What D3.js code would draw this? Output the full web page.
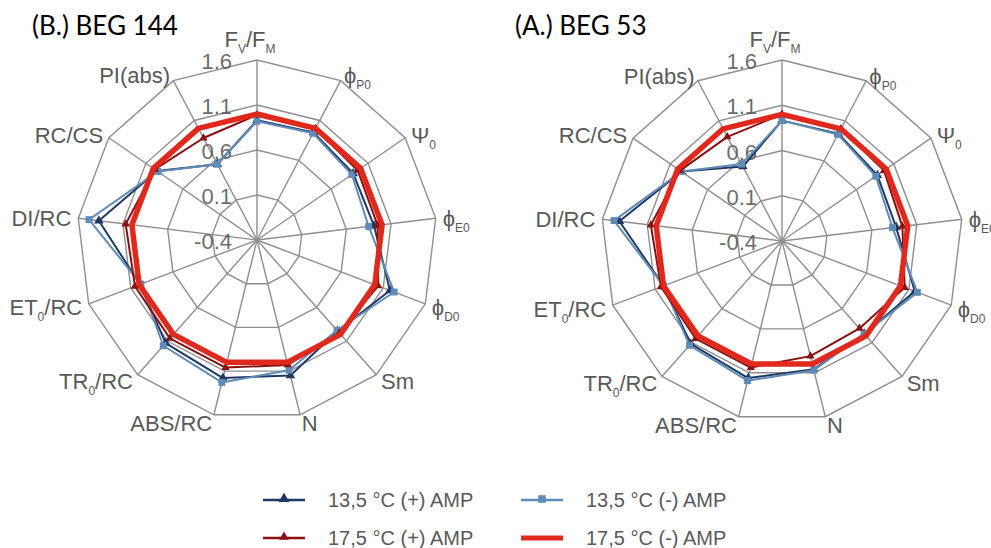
<!DOCTYPE html>
<html>
<head>
<meta charset="utf-8">
<script src="https://cdn.jsdelivr.net/npm/d3@7"></script>
<style>
  html, body { margin: 0; padding: 0; background: #fff; }
  svg { display: block; }
</style>
</head>
<body>
<svg id="chart" width="991" height="548"></svg>
<script>
// ---------- DATA ----------
const categories = ["F_V/F_M", "ϕ_P0", "Ψ_0", "ϕ_E0", "ϕ_D0", "Sm", "N", "ABS/RC", "TR_0/RC", "ET_0/RC", "DI/RC", "RC/CS", "PI(abs)"];
const tickValues = [-0.4, 0.1, 0.6, 1.1, 1.6];
const tickLabels = ["-0.4", "0.1", "0.6", "1.1", "1.6"];
const seriesNames = ["13,5 °C (+) AMP", "13,5 °C (-) AMP", "17,5 °C (+) AMP", "17,5 °C (-) AMP"];
const panelTitles = ["(B.) BEG 144", "(A.) BEG 53"];

// BEG 144
const beg144_13plus  = [0.93, 0.95, 0.90, 0.91, 1.18, 0.95, 1.15, 1.18, 1.13, 0.99, 1.37, 0.95, 0.55];
const beg144_13minus = [0.92, 0.94, 0.88, 0.85, 1.23, 0.94, 1.09, 1.23, 1.17, 0.98, 1.48, 0.94, 0.55];
const beg144_17plus  = [0.99, 1.00, 0.96, 0.95, 1.04, 0.98, 1.03, 1.06, 1.06, 1.05, 1.07, 0.98, 0.88];
const beg144_17minus = [1.00, 1.00, 1.00, 1.00, 1.00, 1.00, 1.00, 1.00, 1.00, 1.00, 1.00, 1.00, 1.00];
// BEG 53
const beg53_13plus  = [0.93, 0.94, 0.88, 0.87, 1.17, 0.97, 1.06, 1.16, 1.12, 1.00, 1.41, 0.95, 0.53];
const beg53_13minus = [0.93, 0.93, 0.86, 0.83, 1.20, 0.97, 1.07, 1.19, 1.14, 1.00, 1.47, 0.95, 0.56];
const beg53_17plus  = [1.00, 1.00, 0.97, 0.94, 1.05, 0.89, 0.91, 1.04, 1.04, 1.03, 1.06, 0.97, 0.90];
const beg53_17minus = [1.00, 1.00, 1.00, 1.00, 1.00, 1.00, 1.00, 1.00, 1.00, 1.00, 1.00, 1.00, 1.00];

// ---------- STYLE ----------
const styles = [
  { color: "#1f3864", width: 2,   marker: "triangle", msize: 40 },
  { color: "#5f8bb8", width: 2,   marker: "square",   msize: 48 },
  { color: "#8b1010", width: 2,   marker: "triangle", msize: 30 },
  { color: "#e0291c", width: 5.5, marker: null,       msize: 0 }
];
const gridColor = "#8f8f8f";
const textColor = "#595959";
const labelFont = "'Liberation Sans', Arial, sans-serif";

const panels = [
  { title: panelTitles[0], cx: 257, cy: 240, R: 180, titleX: 32,
    series: [beg144_13plus, beg144_13minus, beg144_17plus, beg144_17minus] },
  { title: panelTitles[1], cx: 782, cy: 241, R: 181, titleX: 515,
    series: [beg53_13plus, beg53_13minus, beg53_17plus, beg53_17minus] }
];

const svg = d3.select("#chart");
const N = categories.length;
const angle = i => i * 2 * Math.PI / N;

function addRichText(sel, str, size, subSize) {
  const parts = str.split(/_([^/]+)/);
  parts.forEach((p, k) => {
    if (p === "") return;
    if (k % 2 === 0) {
      sel.append("tspan").attr("font-size", size).attr("dy", 0).text(p);
    } else {
      sel.append("tspan").attr("font-size", subSize).attr("baseline-shift", -6).text(p);
    }
  });
}

panels.forEach(p => {
  const g = svg.append("g").attr("transform", `translate(${p.cx},${p.cy})`);
  const r = d3.scaleLinear().domain([tickValues[0], tickValues[tickValues.length - 1]]).range([0, p.R]);
  const pt = (i, v) => [r(v) * Math.sin(angle(i)), -r(v) * Math.cos(angle(i))];

  // grid polygons
  const poly = d3.line().curve(d3.curveLinearClosed);
  tickValues.slice(1).forEach(t => {
    g.append("path")
      .attr("d", poly(d3.range(N).map(i => pt(i, t))))
      .attr("fill", "none").attr("stroke", gridColor).attr("stroke-width", 1.4);
  });
  // spokes
  d3.range(N).forEach(i => {
    const [x, y] = pt(i, tickValues[tickValues.length - 1]);
    g.append("line").attr("x1", 0).attr("y1", 0).attr("x2", x).attr("y2", y)
      .attr("stroke", gridColor).attr("stroke-width", 1.4);
  });

  // tick labels
  tickValues.forEach((t, k) => {
    g.append("text")
      .attr("x", -25).attr("y", -r(t) + 9)
      .attr("text-anchor", "end")
      .attr("font-family", labelFont).attr("font-size", 22)
      .attr("fill", textColor).attr("fill-opacity", 0.9)
      .text(tickLabels[k]);
  });

  // category labels
  categories.forEach((c, i) => {
    const s = Math.sin(angle(i)), co = Math.cos(angle(i));
    const vx = p.R * s, vy = -p.R * co;
    let x, y, anchor;
    if (Math.abs(s) < 0.05) { x = vx - 7; y = vy - 13; anchor = "middle"; }
    else { x = vx + 7 * s; y = vy + 9 - 7 * co; anchor = s > 0 ? "start" : "end"; }
    const t = g.append("text").attr("x", x).attr("y", y)
      .attr("text-anchor", anchor)
      .attr("font-family", labelFont).attr("font-size", 22)
      .attr("fill", textColor);
    addRichText(t, c, 22, 12);
  });

  // series
  const line = d3.line().curve(d3.curveLinearClosed);
  p.series.forEach((vals, si) => {
    const st = styles[si];
    const pts = vals.map((v, i) => pt(i, v));
    g.append("path").attr("d", line(pts))
      .attr("fill", "none").attr("stroke", st.color)
      .attr("stroke-width", st.width).attr("stroke-linejoin", "round");
    if (st.marker) {
      const sym = d3.symbol().type(st.marker === "triangle" ? d3.symbolTriangle : d3.symbolSquare).size(st.msize);
      g.selectAll(null).data(pts).enter().append("path")
        .attr("d", sym).attr("transform", d => `translate(${d[0]},${d[1]})`)
        .attr("fill", st.color);
    }
  });

  // title
  svg.append("text").attr("x", p.titleX).attr("y", 35)
    .attr("font-family", "Lato, 'Open Sans', sans-serif").attr("font-size", 26)
    .attr("fill", "#000").text(p.title);
});

// ---------- LEGEND ----------
const legendPos = [
  { x: 263, y: 500 }, { x: 521, y: 500 },
  { x: 263, y: 538 }, { x: 521, y: 538 }
];
seriesNames.forEach((name, k) => {
  const st = styles[k], lp = legendPos[k];
  const lg = svg.append("g").attr("transform", `translate(${lp.x},${lp.y})`);
  lg.append("line").attr("x1", 0).attr("x2", 42).attr("y1", 0).attr("y2", 0)
    .attr("stroke", st.color).attr("stroke-width", k === 3 ? 5 : 2.5);
  if (st.marker) {
    const sym = d3.symbol().type(st.marker === "triangle" ? d3.symbolTriangle : d3.symbolSquare).size(st.msize + 10);
    lg.append("path").attr("d", sym).attr("transform", "translate(21,-1)").attr("fill", st.color);
  }
  lg.append("text").attr("x", 65).attr("y", 7)
    .attr("font-family", labelFont).attr("font-size", 20)
    .attr("fill", textColor).text(name);
});
</script>
</body>
</html>
